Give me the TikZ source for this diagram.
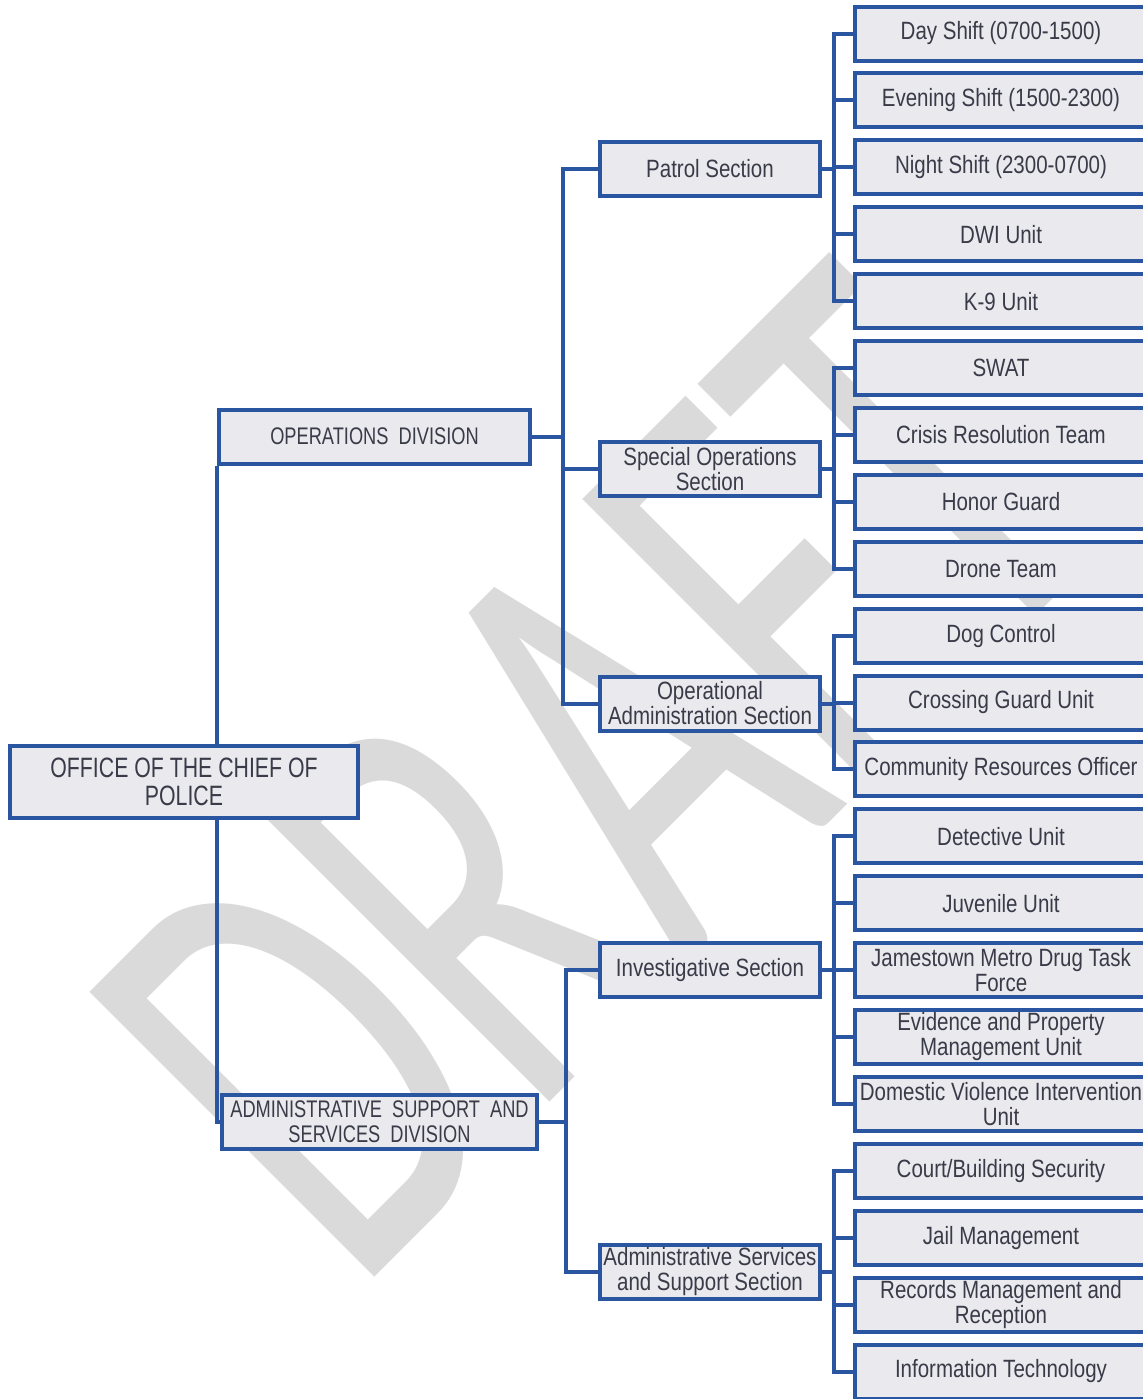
\documentclass[tikz,border=0pt]{standalone}
\usepackage{fontspec}
\setmainfont{Liberation Sans}[FakeStretch=0.82]
\newfontfamily\divfont{Liberation Sans}[FakeStretch=0.76]
\newfontfamily\wmfont{Carlito}[FakeStretch=0.64]
\definecolor{lineblue}{HTML}{2A55A0}
\definecolor{boxfill}{HTML}{E9E9EE}
\definecolor{txt}{HTML}{3A3B48}
\definecolor{wm}{HTML}{DADADA}
\begin{document}
\begin{tikzpicture}[x=0.5pt,y=-0.5pt,
  box/.style={draw=lineblue, line width=2pt, fill=boxfill, text=txt, align=center, inner sep=0pt,
    font=\fontsize{12.5}{12.5}\selectfont},
  unitbox/.style={box, minimum width=146pt, minimum height=27pt},
  secbox/.style={box, minimum width=110pt, minimum height=27pt},
  divbox/.style={box, font=\divfont\fontsize{12}{12.5}\selectfont, minimum height=27pt},
  link/.style={draw=lineblue, line width=2pt}]
\fill[white] (0,0) rectangle (1142,1399);
\useasboundingbox (0,0) rectangle (1142,1399);
% watermark
\node[rotate=45, text=wm, font=\wmfont\fontsize{314}{314}\selectfont, inner sep=0pt] (wmark) at (594,773) {DRAFT};
% divisions
\node[box, font=\divfont\fontsize{14}{14}\selectfont, minimum width=174pt, minimum height=36pt] (chief) at (184,782) {OFFICE\ OF\ THE\ CHIEF\ OF\\POLICE};
\node[divbox, minimum width=155.5pt] (ops) at (374.5,436.5) {OPERATIONS\ \ DIVISION};
\node[divbox, minimum width=157.5pt] (assd) at (379.5,1122) {ADMINISTRATIVE\ \ SUPPORT\ \ AND\\SERVICES\ \ DIVISION};
% sections
\node[secbox] (patrol) at (710,168.5) {Patrol Section};
\node[secbox] (specops) at (710,469) {Special Operations\\Section};
\node[secbox] (opadmin) at (710,703.5) {Operational\\Administration Section};
\node[secbox] (invest) at (710,970) {Investigative Section};
\node[secbox] (admserv) at (710,1271.5) {Administrative Services\\and Support Section};
% units
\node[unitbox] (r0) at (1001,33.5) {Day Shift (0700-1500)};
\node[unitbox] (r1) at (1001,100.4) {Evening Shift (1500-2300)};
\node[unitbox] (r2) at (1001,167.3) {Night Shift (2300-0700)};
\node[unitbox] (r3) at (1001,234.2) {DWI Unit};
\node[unitbox] (r4) at (1001,301.1) {K-9 Unit};
\node[unitbox] (r5) at (1001,368) {SWAT};
\node[unitbox] (r6) at (1001,434.9) {Crisis Resolution Team};
\node[unitbox] (r7) at (1001,501.8) {Honor Guard};
\node[unitbox] (r8) at (1001,568.7) {Drone Team};
\node[unitbox] (r9) at (1001,635.6) {Dog Control};
\node[unitbox] (r10) at (1001,702.5) {Crossing Guard Unit};
\node[unitbox] (r11) at (1001,769.4) {Community Resources Officer};
\node[unitbox] (r12) at (1001,836.3) {Detective Unit};
\node[unitbox] (r13) at (1001,903.2) {Juvenile Unit};
\node[unitbox] (r14) at (1001,970.1) {Jamestown Metro Drug Task\\Force};
\node[unitbox] (r15) at (1001,1037) {Evidence and Property\\Management Unit};
\node[unitbox] (r16) at (1001,1103.9) {Domestic Violence Intervention\\Unit};
\node[unitbox] (r17) at (1001,1170.8) {Court/Building Security};
\node[unitbox] (r18) at (1001,1237.7) {Jail Management};
\node[unitbox] (r19) at (1001,1304.6) {Records Management and\\Reception};
\node[unitbox] (r20) at (1001,1371.5) {Information Technology};
% connectors: chief to divisions
\draw[link] (ops.south west) -- (ops.south west |- chief.north);
\draw[link] (ops.south west |- chief.south) |- (assd.west);
% divisions to sections
\foreach \s in {patrol,specops,opadmin}
  \draw[link] (\s.west) -- ++(-35,0) |- (ops.east);
\foreach \s in {invest,admserv}
  \draw[link] (\s.west) -- ++(-32,0) |- (assd.east);
% sections to units
\foreach \u in {0,...,4}
  \draw[link] (r\u.west) -- ++(-19,0) |- (patrol.east);
\foreach \u in {5,...,8}
  \draw[link] (r\u.west) -- ++(-19,0) |- (specops.east);
\foreach \u in {9,10,11}
  \draw[link] (r\u.west) -- ++(-19,0) |- (opadmin.east);
\foreach \u in {12,...,16}
  \draw[link] (r\u.west) -- ++(-19,0) |- (invest.east);
\foreach \u in {17,...,20}
  \draw[link] (r\u.west) -- ++(-19,0) |- (admserv.east);
\end{tikzpicture}
\end{document}
